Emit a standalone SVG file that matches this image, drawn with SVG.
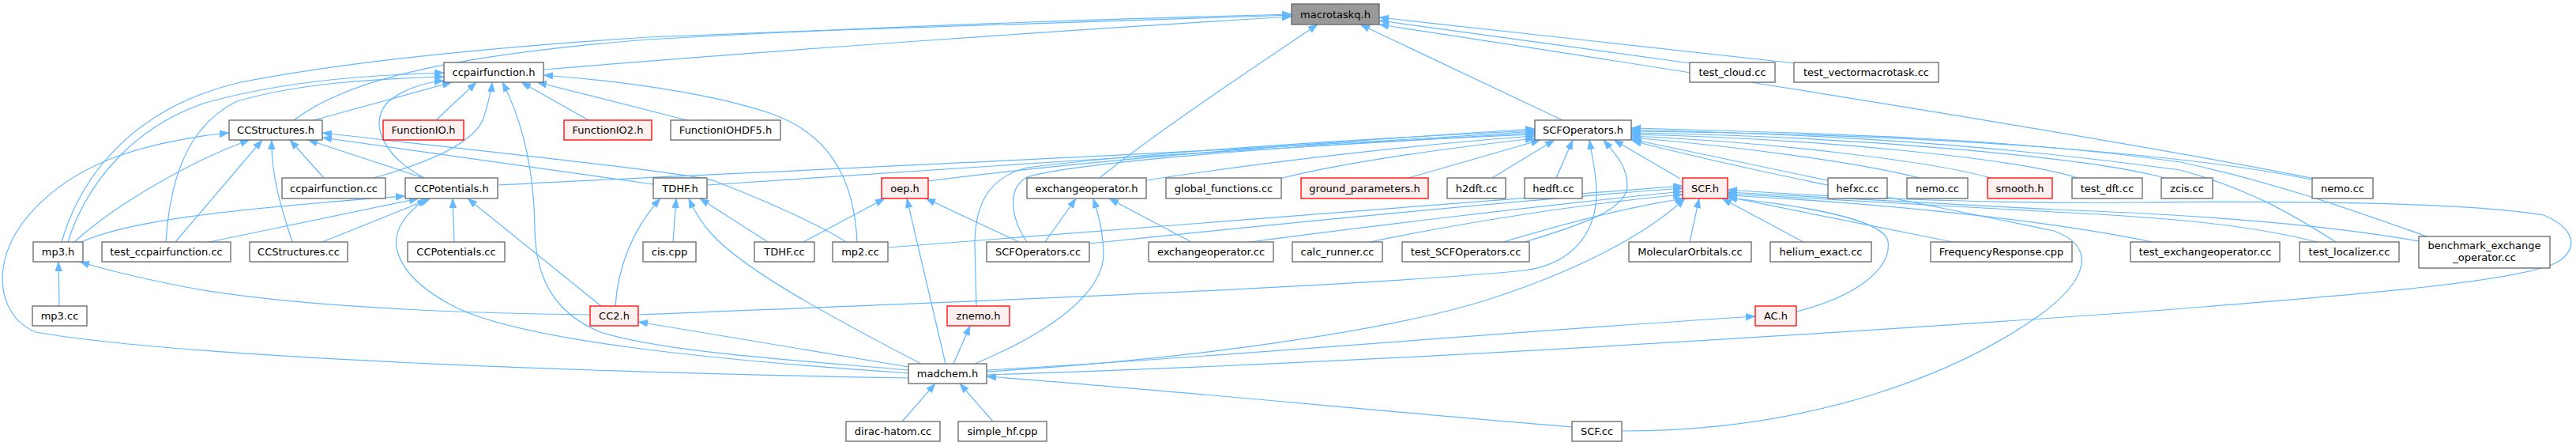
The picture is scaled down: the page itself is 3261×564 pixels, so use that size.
<svg xmlns="http://www.w3.org/2000/svg" width="3261" height="564" viewBox="0 0 3261 564">
<defs>
<marker id="a" markerUnits="userSpaceOnUse" markerWidth="13" markerHeight="10" refX="12" refY="4.5" orient="auto">
<path d="M0,0 L12,4.5 L0,9 z" fill="#63b8ff" stroke="#63b8ff" stroke-width="0.5"/>
</marker>
<style>
.n rect{fill:#ffffff;stroke:#666666;stroke-width:1.3}
.r rect{fill:#fff0f0;stroke:#ff0000}
.root rect{fill:#999999;stroke:#666666}
.n text{font-family:"DejaVu Sans","Liberation Sans",sans-serif;font-size:13px;text-anchor:middle;fill:#000000}
.e path{fill:none;stroke:#63b8ff;stroke-width:1.2;marker-end:url(#a)}
</style>
</defs>
<rect width="3261" height="564" fill="#ffffff"/>
<g id="edges" class="e">
<path d="M688,88 C1000,62 1400,35 1635,21"/>
<path d="M372,152 C430,108 540,72 820,50 C1100,34 1400,24 1635,18"/>
<path d="M78,306 C100,230 160,140 300,105 C450,75 650,58 820,47 C1100,36 1400,25 1635,19"/>
<path d="M1978,152 L1722,31"/>
<path d="M1392,225 C1460,170 1580,90 1668,31"/>
<path d="M2140,80 L1746,26"/>
<path d="M2272,80 L1746,22"/>
<path d="M2930,226 C2700,180 2200,100 1746,31"/>
<path d="M86,306 C110,230 170,160 260,130 C350,105 450,95 562,92"/>
<path d="M210,306 C215,230 235,160 300,128 C380,105 470,100 562,97"/>
<path d="M537,225 C490,200 465,160 490,130 C510,112 540,104 562,102"/>
<path d="M397,152 L572,104"/>
<path d="M552,152 L603,104"/>
<path d="M473,225 C545,205 600,180 612,150 C618,130 622,115 623,104"/>
<path d="M1150,468 C1000,455 840,445 760,420 C700,395 678,350 677,290 C676,210 660,150 636,104"/>
<path d="M745,152 L660,104"/>
<path d="M870,152 L680,104"/>
<path d="M1085,306 C1082,240 1060,175 980,145 C900,117 780,102 688,95"/>
<path d="M1150,478 C800,472 250,455 45,420 C10,405 0,370 4,340 C10,290 60,230 150,197 C200,180 250,172 290,168"/>
<path d="M94,306 C150,255 250,200 316,177"/>
<path d="M222,306 L332,177"/>
<path d="M370,306 C355,260 343,220 344,177"/>
<path d="M410,225 L367,177"/>
<path d="M536,225 L390,177"/>
<path d="M827,233 L408,174"/>
<path d="M1071,306 C1040,285 960,250 905,229 C870,218 600,190 408,168"/>
<path d="M103,306 C160,280 280,265 513,248"/>
<path d="M265,306 L530,251"/>
<path d="M408,306 L545,251"/>
<path d="M1150,472 C900,455 650,430 570,385 C505,350 490,310 510,280 C518,268 530,258 540,251"/>
<path d="M575,306 L573,251"/>
<path d="M761,387 L592,251"/>
<path d="M630,234 C900,220 1600,190 1943,166"/>
<path d="M779,387 C782,340 800,290 836,251"/>
<path d="M852,306 L856,251"/>
<path d="M1166,460 C1050,400 940,340 900,295 C885,278 878,265 872,251"/>
<path d="M972,306 L886,251"/>
<path d="M895,234 C1200,212 1700,182 1943,168"/>
<path d="M1017,306 L1120,251"/>
<path d="M1197,460 L1148,251"/>
<path d="M1290,306 L1172,251"/>
<path d="M1175,229 C1400,200 1700,178 1943,163"/>
<path d="M1323,306 L1362,251"/>
<path d="M1234,460 C1330,420 1398,370 1397,320 C1396,290 1390,270 1384,251"/>
<path d="M1508,306 L1404,251"/>
<path d="M1451,228 C1600,205 1800,182 1943,172"/>
<path d="M1620,226 C1700,205 1850,185 1943,175"/>
<path d="M1783,225 L1950,177"/>
<path d="M1889,225 L1968,177"/>
<path d="M1970,225 L1991,177"/>
<path d="M2127,226 L2043,177"/>
<path d="M1236,387 L1234,310 C1234,260 1250,225 1300,212 C1450,193 1700,177 1943,165"/>
<path d="M1300,306 C1282,280 1272,240 1300,224 C1360,205 1650,182 1943,170"/>
<path d="M1379,308 C1550,290 1900,255 2130,238"/>
<path d="M1124,313 C1400,292 1900,252 2130,235"/>
<path d="M1583,306 C1700,290 1950,260 2130,242"/>
<path d="M1734,306 C1850,282 2000,258 2130,246"/>
<path d="M1903,306 C1990,280 2070,260 2132,251"/>
<path d="M1930,306 C2000,285 2060,265 2060,235 C2060,210 2045,195 2030,177"/>
<path d="M808,398 C1200,382 1700,364 1930,342 C1995,333 2022,290 2021,240 C2020,215 2015,195 2012,177"/>
<path d="M2313,228 L2065,176"/>
<path d="M2430,225 C2350,205 2200,185 2065,174"/>
<path d="M2520,225 C2450,205 2250,180 2065,172"/>
<path d="M2630,225 C2550,200 2300,175 2065,170"/>
<path d="M2740,225 C2650,200 2350,172 2065,168"/>
<path d="M2930,228 C2800,200 2500,170 2065,166"/>
<path d="M2957,306 C2900,270 2850,240 2760,215 C2500,180 2300,170 2065,164"/>
<path d="M3072,299 C2990,270 2880,230 2760,205 C2550,175 2300,168 2065,162"/>
<path d="M2054,545 C2300,545 2480,470 2580,400 C2650,350 2650,310 2600,292 C2450,260 2250,225 2066,178"/>
<path d="M1990,540 C1800,525 1500,495 1249,476"/>
<path d="M2139,306 L2151,251"/>
<path d="M2283,306 L2180,251"/>
<path d="M2472,306 L2187,249"/>
<path d="M2725,306 C2600,280 2400,258 2187,247"/>
<path d="M2933,306 C2850,285 2750,275 2600,268 C2450,260 2300,252 2187,245"/>
<path d="M3062,305 C2950,285 2800,272 2600,265 C2450,258 2300,250 2187,243"/>
<path d="M1249,474 C1700,460 2200,430 2700,395 C3000,372 3200,355 3240,330 C3265,312 3258,288 3220,272 C3120,255 2900,254 2700,256 C2500,258 2300,248 2187,240"/>
<path d="M1249,470 C1500,455 1750,420 1880,380 C1990,345 2080,300 2133,251"/>
<path d="M1249,468 C1500,455 1900,420 2222,400"/>
<path d="M2274,394 C2350,375 2395,340 2390,305 C2385,280 2300,262 2187,250"/>
<path d="M1150,464 L808,407"/>
<path d="M1207,460 L1228,412"/>
<path d="M1142,533 L1184,485"/>
<path d="M1257,533 L1215,485"/>
<path d="M75,387 L74,331"/>
<path d="M747,398 C550,396 350,385 230,362 C170,350 130,340 101,331"/>
</g>
<g id="n_macrotaskq_h" class="n root"><rect x="1635" y="5" width="111" height="26"/><text x="1690.5" y="23">macrotaskq.h</text></g>
<g id="n_ccpairfunction_h" class="n"><rect x="562" y="79" width="126" height="25"/><text x="625" y="96">ccpairfunction.h</text></g>
<g id="n_test_cloud_cc" class="n"><rect x="2139" y="79" width="108" height="25"/><text x="2193" y="96">test_cloud.cc</text></g>
<g id="n_test_vectormacrotask_cc" class="n"><rect x="2271" y="79" width="183" height="25"/><text x="2362.5" y="96">test_vectormacrotask.cc</text></g>
<g id="n_CCStructures_h" class="n"><rect x="290" y="152" width="118" height="25"/><text x="349" y="169">CCStructures.h</text></g>
<g id="n_FunctionIO_h" class="n r"><rect x="485" y="152" width="102" height="25"/><text x="536" y="169">FunctionIO.h</text></g>
<g id="n_FunctionIO2_h" class="n r"><rect x="714" y="152" width="111" height="25"/><text x="769.5" y="169">FunctionIO2.h</text></g>
<g id="n_FunctionIOHDF5_h" class="n"><rect x="849" y="152" width="139" height="25"/><text x="918.5" y="169">FunctionIOHDF5.h</text></g>
<g id="n_SCFOperators_h" class="n"><rect x="1943" y="152" width="122" height="25"/><text x="2004" y="169">SCFOperators.h</text></g>
<g id="n_ccpairfunction_cc" class="n"><rect x="357" y="225" width="131" height="26"/><text x="422.5" y="243">ccpairfunction.cc</text></g>
<g id="n_CCPotentials_h" class="n"><rect x="513" y="225" width="117" height="26"/><text x="571.5" y="243">CCPotentials.h</text></g>
<g id="n_TDHF_h" class="n"><rect x="827" y="225" width="68" height="26"/><text x="861" y="243">TDHF.h</text></g>
<g id="n_oep_h" class="n r"><rect x="1116" y="225" width="59" height="26"/><text x="1145.5" y="243">oep.h</text></g>
<g id="n_exchangeoperator_h" class="n"><rect x="1300" y="225" width="151" height="26"/><text x="1375.5" y="243">exchangeoperator.h</text></g>
<g id="n_global_functions_cc" class="n"><rect x="1476" y="225" width="146" height="26"/><text x="1549" y="243">global_functions.cc</text></g>
<g id="n_ground_parameters_h" class="n r"><rect x="1647" y="225" width="161" height="26"/><text x="1727.5" y="243">ground_parameters.h</text></g>
<g id="n_h2dft_cc" class="n"><rect x="1832" y="225" width="74" height="26"/><text x="1869" y="243">h2dft.cc</text></g>
<g id="n_hedft_cc" class="n"><rect x="1930" y="225" width="73" height="26"/><text x="1966.5" y="243">hedft.cc</text></g>
<g id="n_SCF_h" class="n r"><rect x="2130" y="225" width="57" height="26"/><text x="2158.5" y="243">SCF.h</text></g>
<g id="n_hefxc_cc" class="n"><rect x="2314" y="225" width="75" height="26"/><text x="2351.5" y="243">hefxc.cc</text></g>
<g id="n_nemo_cc_1" class="n"><rect x="2414" y="225" width="77" height="26"/><text x="2452.5" y="243">nemo.cc</text></g>
<g id="n_smooth_h" class="n r"><rect x="2516" y="225" width="82" height="26"/><text x="2557" y="243">smooth.h</text></g>
<g id="n_test_dft_cc" class="n"><rect x="2623" y="225" width="89" height="26"/><text x="2667.5" y="243">test_dft.cc</text></g>
<g id="n_zcis_cc" class="n"><rect x="2736" y="225" width="65" height="26"/><text x="2768.5" y="243">zcis.cc</text></g>
<g id="n_nemo_cc_2" class="n"><rect x="2927" y="225" width="77" height="26"/><text x="2965.5" y="243">nemo.cc</text></g>
<g id="n_mp3_h" class="n"><rect x="42" y="306" width="63" height="25"/><text x="73.5" y="323">mp3.h</text></g>
<g id="n_test_ccpairfunction_cc" class="n"><rect x="129" y="306" width="163" height="25"/><text x="210.5" y="323">test_ccpairfunction.cc</text></g>
<g id="n_CCStructures_cc" class="n"><rect x="316" y="306" width="124" height="25"/><text x="378" y="323">CCStructures.cc</text></g>
<g id="n_CCPotentials_cc" class="n"><rect x="516" y="306" width="123" height="25"/><text x="577.5" y="323">CCPotentials.cc</text></g>
<g id="n_cis_cpp" class="n"><rect x="814" y="306" width="67" height="25"/><text x="847.5" y="323">cis.cpp</text></g>
<g id="n_TDHF_cc" class="n"><rect x="955" y="306" width="76" height="25"/><text x="993" y="323">TDHF.cc</text></g>
<g id="n_mp2_cc" class="n"><rect x="1054" y="306" width="70" height="25"/><text x="1089" y="323">mp2.cc</text></g>
<g id="n_SCFOperators_cc" class="n"><rect x="1249" y="306" width="130" height="25"/><text x="1314" y="323">SCFOperators.cc</text></g>
<g id="n_exchangeoperator_cc" class="n"><rect x="1454" y="306" width="158" height="25"/><text x="1533" y="323">exchangeoperator.cc</text></g>
<g id="n_calc_runner_cc" class="n"><rect x="1636" y="306" width="114" height="25"/><text x="1693" y="323">calc_runner.cc</text></g>
<g id="n_test_SCFOperators_cc" class="n"><rect x="1775" y="306" width="161" height="25"/><text x="1855.5" y="323">test_SCFOperators.cc</text></g>
<g id="n_MolecularOrbitals_cc" class="n"><rect x="2062" y="306" width="155" height="25"/><text x="2139.5" y="323">MolecularOrbitals.cc</text></g>
<g id="n_helium_exact_cc" class="n"><rect x="2241" y="306" width="128" height="25"/><text x="2305" y="323">helium_exact.cc</text></g>
<g id="n_FrequencyResponse_cpp" class="n"><rect x="2444" y="306" width="179" height="25"/><text x="2533.5" y="323">FrequencyResponse.cpp</text></g>
<g id="n_test_exchangeoperator_cc" class="n"><rect x="2697" y="306" width="189" height="25"/><text x="2791.5" y="323">test_exchangeoperator.cc</text></g>
<g id="n_test_localizer_cc" class="n"><rect x="2911" y="306" width="126" height="25"/><text x="2974" y="323">test_localizer.cc</text></g>
<g id="n_benchmark_exchange_operator_cc" class="n"><rect x="3062" y="299" width="166" height="40"/><text x="3145" y="315">benchmark_exchange</text><text x="3145" y="330">_operator.cc</text></g>
<g id="n_mp3_cc" class="n"><rect x="41" y="387" width="69" height="25"/><text x="75.5" y="404">mp3.cc</text></g>
<g id="n_CC2_h" class="n r"><rect x="747" y="387" width="61" height="25"/><text x="777.5" y="404">CC2.h</text></g>
<g id="n_znemo_h" class="n r"><rect x="1199" y="387" width="79" height="25"/><text x="1238.5" y="404">znemo.h</text></g>
<g id="n_AC_h" class="n r"><rect x="2222" y="387" width="52" height="25"/><text x="2248" y="404">AC.h</text></g>
<g id="n_madchem_h" class="n"><rect x="1150" y="460" width="99" height="25"/><text x="1199.5" y="477">madchem.h</text></g>
<g id="n_dirac_hatom_cc" class="n"><rect x="1071" y="533" width="119" height="25"/><text x="1130.5" y="550">dirac-hatom.cc</text></g>
<g id="n_simple_hf_cpp" class="n"><rect x="1213" y="533" width="112" height="25"/><text x="1269" y="550">simple_hf.cpp</text></g>
<g id="n_SCF_cc" class="n"><rect x="1990" y="533" width="63" height="25"/><text x="2021.5" y="550">SCF.cc</text></g>
</svg>
